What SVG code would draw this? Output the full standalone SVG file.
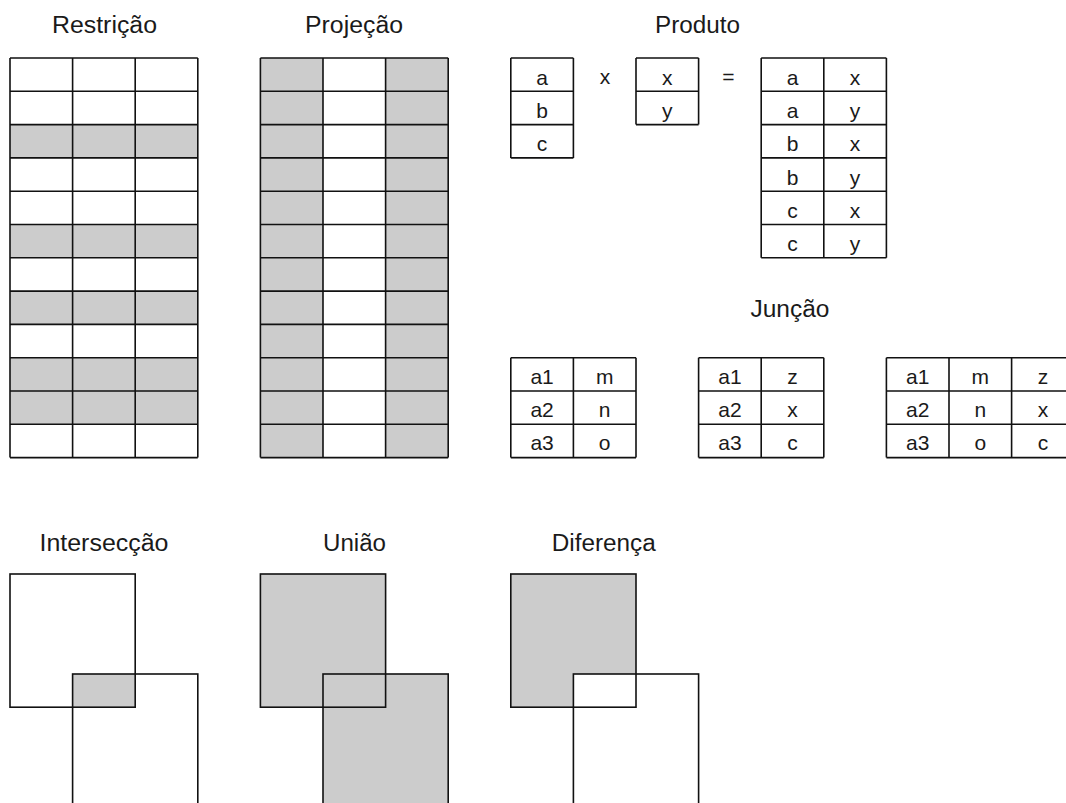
<svg xmlns="http://www.w3.org/2000/svg" width="1066" height="803" viewBox="0 0 1066 803">
  <style>
    .title { font-family: "Liberation Sans", Arial, sans-serif; font-size: 23px; fill: #1a1a1a; text-anchor: middle; }
    .cell { font-family: "Liberation Sans", Arial, sans-serif; font-size: 21px; fill: #1a1a1a; text-anchor: middle; }
    .op { font-family: "Liberation Sans", Arial, sans-serif; font-size: 21px; fill: #1a1a1a; text-anchor: middle; }
    .shade { fill: #cccccc; stroke: none; }
    .line { fill: none; stroke: #111; stroke-width: 1.6; }
  </style>

  <rect width="1066" height="803" fill="#ffffff"/>

  <!-- Restrição: selected rows shaded -->
  <g id="restricao">
    <text class="title" x="104.5" y="33" textLength="105" lengthAdjust="spacingAndGlyphs">Restrição</text>
    <rect class="shade" x="10" y="124.6" width="187.8" height="33.3"/>
    <rect class="shade" x="10" y="224.5" width="187.8" height="33.3"/>
    <rect class="shade" x="10" y="291.1" width="187.8" height="33.3"/>
    <rect class="shade" x="10" y="357.7" width="187.8" height="66.6"/>
    <path class="line" d="M10 58V457.6M72.6 58V457.6M135.2 58V457.6M197.8 58V457.6
      M10 58H197.8M10 91.3H197.8M10 124.6H197.8M10 157.9H197.8M10 191.2H197.8M10 224.5H197.8M10 257.8H197.8
      M10 291.1H197.8M10 324.4H197.8M10 357.7H197.8M10 391H197.8M10 424.3H197.8M10 457.6H197.8"/>
  </g>

  <!-- Projeção: selected columns shaded -->
  <g id="projecao">
    <text class="title" x="354" y="33" textLength="98" lengthAdjust="spacingAndGlyphs">Projeção</text>
    <rect class="shade" x="260.4" y="58" width="62.6" height="399.6"/>
    <rect class="shade" x="385.6" y="58" width="62.6" height="399.6"/>
    <path class="line" d="M260.4 58V457.6M323 58V457.6M385.6 58V457.6M448.2 58V457.6
      M260.4 58H448.2M260.4 91.3H448.2M260.4 124.6H448.2M260.4 157.9H448.2M260.4 191.2H448.2M260.4 224.5H448.2M260.4 257.8H448.2
      M260.4 291.1H448.2M260.4 324.4H448.2M260.4 357.7H448.2M260.4 391H448.2M260.4 424.3H448.2M260.4 457.6H448.2"/>
  </g>

  <!-- Produto: cartesian product -->
  <g id="produto">
    <text class="title" x="697.5" y="33" textLength="85" lengthAdjust="spacingAndGlyphs">Produto</text>
    <path class="line" d="M510.8 58V157.9M573.4 58V157.9M510.8 58H573.4M510.8 91.3H573.4M510.8 124.6H573.4M510.8 157.9H573.4"/>
    <text class="cell" x="542.1" y="85">a</text>
    <text class="cell" x="542.1" y="118">b</text>
    <text class="cell" x="542.1" y="151">c</text>

    <text class="op" x="605" y="84">x</text>

    <path class="line" d="M636 58V124.6M698.6 58V124.6M636 58H698.6M636 91.3H698.6M636 124.6H698.6"/>
    <text class="cell" x="667.3" y="85">x</text>
    <text class="cell" x="667.3" y="118">y</text>

    <text class="op" x="728.5" y="84">=</text>

    <path class="line" d="M761.2 58V257.8M823.8 58V257.8M886.4 58V257.8
      M761.2 58H886.4M761.2 91.3H886.4M761.2 124.6H886.4M761.2 157.9H886.4M761.2 191.2H886.4M761.2 224.5H886.4M761.2 257.8H886.4"/>
    <text class="cell" x="792.5" y="85">a</text>
    <text class="cell" x="855.1" y="85">x</text>
    <text class="cell" x="792.5" y="118">a</text>
    <text class="cell" x="855.1" y="118">y</text>
    <text class="cell" x="792.5" y="151">b</text>
    <text class="cell" x="855.1" y="151">x</text>
    <text class="cell" x="792.5" y="185">b</text>
    <text class="cell" x="855.1" y="185">y</text>
    <text class="cell" x="792.5" y="218">c</text>
    <text class="cell" x="855.1" y="218">x</text>
    <text class="cell" x="792.5" y="251">c</text>
    <text class="cell" x="855.1" y="251">y</text>
  </g>

  <!-- Junção: two tables joined on the first column -->
  <g id="juncao">
    <text class="title" x="790" y="316.7" textLength="79" lengthAdjust="spacingAndGlyphs">Junção</text>

    <path class="line" d="M510.8 357.7V457.6M573.4 357.7V457.6M636 357.7V457.6
      M510.8 357.7H636M510.8 391H636M510.8 424.3H636M510.8 457.6H636"/>
    <text class="cell" x="542.1" y="384">a1</text>
    <text class="cell" x="604.7" y="384">m</text>
    <text class="cell" x="542.1" y="417">a2</text>
    <text class="cell" x="604.7" y="417">n</text>
    <text class="cell" x="542.1" y="450">a3</text>
    <text class="cell" x="604.7" y="450">o</text>

    <path class="line" d="M698.6 357.7V457.6M761.2 357.7V457.6M823.8 357.7V457.6
      M698.6 357.7H823.8M698.6 391H823.8M698.6 424.3H823.8M698.6 457.6H823.8"/>
    <text class="cell" x="729.9" y="384">a1</text>
    <text class="cell" x="792.5" y="384">z</text>
    <text class="cell" x="729.9" y="417">a2</text>
    <text class="cell" x="792.5" y="417">x</text>
    <text class="cell" x="729.9" y="450">a3</text>
    <text class="cell" x="792.5" y="450">c</text>

    <path class="line" d="M886.4 357.7V457.6M949 357.7V457.6M1011.6 357.7V457.6M1074.2 357.7V457.6
      M886.4 357.7H1074.2M886.4 391H1074.2M886.4 424.3H1074.2M886.4 457.6H1074.2"/>
    <text class="cell" x="917.7" y="384">a1</text>
    <text class="cell" x="980.3" y="384">m</text>
    <text class="cell" x="1042.9" y="384">z</text>
    <text class="cell" x="917.7" y="417">a2</text>
    <text class="cell" x="980.3" y="417">n</text>
    <text class="cell" x="1042.9" y="417">x</text>
    <text class="cell" x="917.7" y="450">a3</text>
    <text class="cell" x="980.3" y="450">o</text>
    <text class="cell" x="1042.9" y="450">c</text>
  </g>

  <!-- Intersecção: only the overlap is shaded -->
  <g id="interseccao">
    <text class="title" x="104" y="550.5" textLength="129" lengthAdjust="spacingAndGlyphs">Intersecção</text>
    <rect class="shade" x="72.6" y="674" width="62.6" height="33.2"/>
    <rect class="line" x="10" y="574" width="125.2" height="133.2"/>
    <rect class="line" x="72.6" y="674" width="125.2" height="140"/>
  </g>

  <!-- União: both sets shaded -->
  <g id="uniao">
    <text class="title" x="354.5" y="550.5" textLength="63" lengthAdjust="spacingAndGlyphs">União</text>
    <rect class="shade" x="260.4" y="574" width="125.2" height="133.2"/>
    <rect class="shade" x="323" y="674" width="125.2" height="140"/>
    <rect class="line" x="260.4" y="574" width="125.2" height="133.2"/>
    <rect class="line" x="323" y="674" width="125.2" height="140"/>
  </g>

  <!-- Diferença: first set minus the overlap -->
  <g id="diferenca">
    <text class="title" x="603.7" y="550.5" textLength="104" lengthAdjust="spacingAndGlyphs">Diferença</text>
    <path class="shade" d="M510.8 574H636V674H573.4V707.2H510.8Z"/>
    <rect class="line" x="510.8" y="574" width="125.2" height="133.2"/>
    <rect class="line" x="573.4" y="674" width="125.2" height="140"/>
  </g>

  <g id="connectors"/>
</svg>
